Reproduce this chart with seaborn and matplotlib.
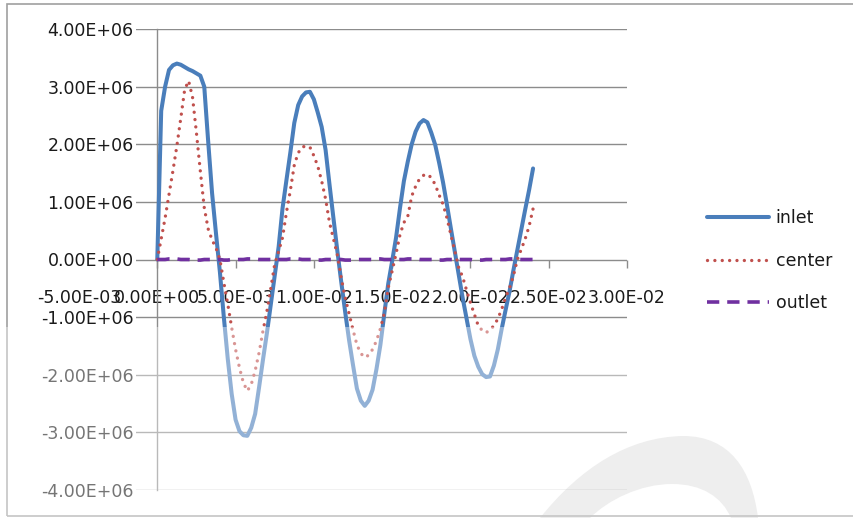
import numpy as np
import pandas as pd
import matplotlib
matplotlib.use("Agg")
import matplotlib.pyplot as plt
import seaborn as sns
from matplotlib.patches import Rectangle, PathPatch
from matplotlib.path import Path

# Sampling times (s) and pressure histories (MPa) at three stations
time_s = np.round(np.arange(97) * 0.00025, 5)

inlet_mpa = [0.00, 2.58, 3.00, 3.29, 3.37, 3.40, 3.38, 3.34, 3.30, 3.27,
             3.23, 3.19, 3.00, 2.05, 1.15, 0.45, -0.22, -1.00, -1.72, -2.33,
             -2.78, -2.98, -3.05, -3.06, -2.92, -2.68, -2.22, -1.74, -1.28, -0.78,
             -0.28, 0.22, 0.89, 1.38, 1.86, 2.37, 2.68, 2.83, 2.90, 2.91,
             2.78, 2.55, 2.30, 1.90, 1.30, 0.72, 0.15, -0.39, -0.91, -1.40,
             -1.83, -2.24, -2.45, -2.54, -2.45, -2.26, -1.90, -1.48, -0.94, -0.42,
             -0.03, 0.38, 0.89, 1.36, 1.70, 2.00, 2.22, 2.36, 2.42, 2.38,
             2.20, 1.99, 1.68, 1.34, 0.95, 0.54, 0.14, -0.26, -0.66, -1.02,
             -1.38, -1.67, -1.86, -1.99, -2.04, -2.03, -1.84, -1.56, -1.20, -0.87,
             -0.55, -0.18, 0.17, 0.52, 0.87, 1.21, 1.58]

center_mpa = [0.00, 0.36, 0.72, 1.13, 1.54, 1.97, 2.45, 2.95, 3.10, 2.82,
              2.20, 1.53, 0.90, 0.53, 0.34, 0.20, 0.00, -0.40, -0.77, -1.18,
              -1.56, -1.88, -2.14, -2.28, -2.17, -1.93, -1.62, -1.24, -0.90, -0.50,
              -0.08, 0.14, 0.38, 0.82, 1.20, 1.64, 1.85, 1.95, 1.97, 1.95,
              1.80, 1.62, 1.36, 1.05, 0.64, 0.36, 0.08, -0.32, -0.66, -0.94,
              -1.22, -1.48, -1.63, -1.70, -1.66, -1.56, -1.41, -1.20, -0.93, -0.49,
              -0.20, 0.10, 0.43, 0.64, 0.75, 1.10, 1.27, 1.40, 1.46, 1.48,
              1.42, 1.30, 1.12, 0.96, 0.72, 0.43, 0.15, -0.14, -0.30, -0.53,
              -0.75, -0.95, -1.15, -1.23, -1.27, -1.22, -1.15, -1.03, -0.86, -0.66,
              -0.49, -0.28, 0.00, 0.18, 0.36, 0.58, 0.88]

outlet_mpa = [0.00, 0.00, 0.00, 0.01, 0.01, 0.01, 0.00, 0.00, 0.00, -0.01,
              -0.01, -0.01, 0.00, 0.00, 0.00, 0.00, 0.00, -0.01, -0.01, 0.00,
              0.00, 0.00, 0.00, 0.01, 0.01, 0.01, 0.00, 0.00, 0.00, 0.00,
              0.00, 0.00, 0.00, 0.00, 0.01, 0.01, 0.01, 0.00, 0.00, 0.00,
              0.00, -0.01, -0.01, 0.00, 0.00, 0.00, 0.00, 0.00, -0.01, -0.01,
              -0.01, 0.00, 0.00, 0.00, 0.00, 0.00, 0.01, 0.01, 0.00, 0.00,
              0.00, 0.00, 0.00, 0.00, 0.01, 0.01, 0.01, 0.00, 0.00, 0.00,
              0.00, 0.00, -0.01, -0.01, 0.00, 0.00, 0.00, 0.00, 0.00, 0.00,
              0.00, -0.01, -0.01, -0.01, 0.00, 0.00, 0.00, 0.00, 0.00, 0.00,
              0.01, 0.01, 0.00, 0.00, 0.00, 0.00, 0.00]

series_names = ["inlet", "center", "outlet"]
x_ticks = [-0.005, 0.0, 0.005, 0.010, 0.015, 0.020, 0.025, 0.030]
y_ticks = [-4e6, -3e6, -2e6, -1e6, 0.0, 1e6, 2e6, 3e6, 4e6]

df = pd.DataFrame({
    "time": time_s,
    "inlet": np.array(inlet_mpa) * 1e6,
    "center": np.array(center_mpa) * 1e6,
    "outlet": np.array(outlet_mpa) * 1e6,
})
long_df = df.melt(id_vars="time", var_name="location", value_name="pressure")

sns.set_theme(style="white")
plt.rcParams["font.family"] = ["DejaVu Sans"]

W, H = 854, 518
fig = plt.figure(figsize=(W / 100, H / 100), dpi=100)
fig.patch.set_facecolor("white")


def px_to_fig(x, y):
    return (x / W, (H - y) / H)


# faint swoosh in the lower right background
swoosh_px = [(540, 518), (580, 468), (628, 437), (683, 436),
             (730, 436), (752, 470), (758, 518), (731, 518),
             (722, 497), (702, 484), (672, 484), (640, 484),
             (608, 500), (590, 518), (540, 518)]
codes = [Path.MOVETO, Path.CURVE4, Path.CURVE4, Path.CURVE4,
         Path.CURVE4, Path.CURVE4, Path.CURVE4, Path.LINETO,
         Path.CURVE4, Path.CURVE4, Path.CURVE4, Path.CURVE4,
         Path.CURVE4, Path.CURVE4, Path.CLOSEPOLY]
swoosh = PathPatch(Path([px_to_fig(*p) for p in swoosh_px], codes),
                   transform=fig.transFigure, facecolor="#E3E3E3",
                   edgecolor="none", zorder=-5)
fig.add_artist(swoosh)

ax = fig.add_axes([79 / W, (H - 490) / H, 548 / W, 461 / H])
ax.set_facecolor("none")

styles = {
    "inlet": dict(color="#4A7EBB", linewidth=2.9, linestyle="-",
                  solid_capstyle="round", solid_joinstyle="round"),
    "center": dict(color="#C0504D", linewidth=2.4, linestyle=(0, (0.01, 2.2)),
                   dash_capstyle="round"),
    "outlet": dict(color="#7030A0", linewidth=2.6, linestyle=(0, (3.4, 2.2)),
                   dash_capstyle="butt"),
}
for name in series_names:
    sns.lineplot(data=long_df[long_df["location"] == name], x="time",
                 y="pressure", ax=ax, label=name, **styles[name])

ax.set_xlim(-0.005, 0.030)
ax.set_ylim(-4e6, 4e6)
ax.set_xlabel("")
ax.set_ylabel("")

grid_col = "#8C8C8C"
ax.set_yticks(y_ticks)
ax.set_yticklabels([f"{v:.2E}" for v in y_ticks])
ax.set_xticks(x_ticks)
ax.set_xticklabels([f"{v:.2E}" for v in x_ticks])
ax.grid(axis="y", color=grid_col, linewidth=1.0)
ax.grid(axis="x", visible=False)
ax.set_axisbelow(True)

for side in ["top", "right"]:
    ax.spines[side].set_visible(False)
ax.spines["left"].set_position(("data", 0.0))
ax.spines["left"].set_color(grid_col)
ax.spines["left"].set_linewidth(1.0)
ax.spines["left"].set_zorder(1)
ax.spines["bottom"].set_position(("data", 0.0))
ax.spines["bottom"].set_color("none")

text_col = "#1A1A1A"
ax.tick_params(axis="x", direction="out", length=6, width=1.0, color=grid_col,
               pad=15, labelsize=12.5, labelcolor=text_col, bottom=True)
ax.tick_params(axis="y", length=0, pad=17, labelsize=12.5, labelcolor=text_col,
               left=True)
for lbl in ax.get_yticklabels():
    lbl.set_bbox(dict(facecolor="white", edgecolor="none", pad=1.5))

leg = ax.legend(loc="upper left", bbox_to_anchor=px_to_fig(707, 209),
                bbox_transform=fig.transFigure, frameon=False, borderpad=0,
                borderaxespad=0, handlelength=3.6, handletextpad=0.35,
                labelspacing=1.42, fontsize=12.5)
for t in leg.get_texts():
    t.set_color(text_col)

# chart border
fig.add_artist(Rectangle(px_to_fig(7, 516), (W + 10) / W, 512 / H,
                         transform=fig.transFigure, facecolor="none",
                         edgecolor="#A0A0A0", linewidth=1.2, zorder=5))

# washed-out lower band
fig.add_artist(Rectangle((0, 0), 1, (H - 327) / H, transform=fig.transFigure,
                         facecolor="white", edgecolor="none", alpha=0.4,
                         zorder=10))

fig.savefig("out.png", dpi=100)
